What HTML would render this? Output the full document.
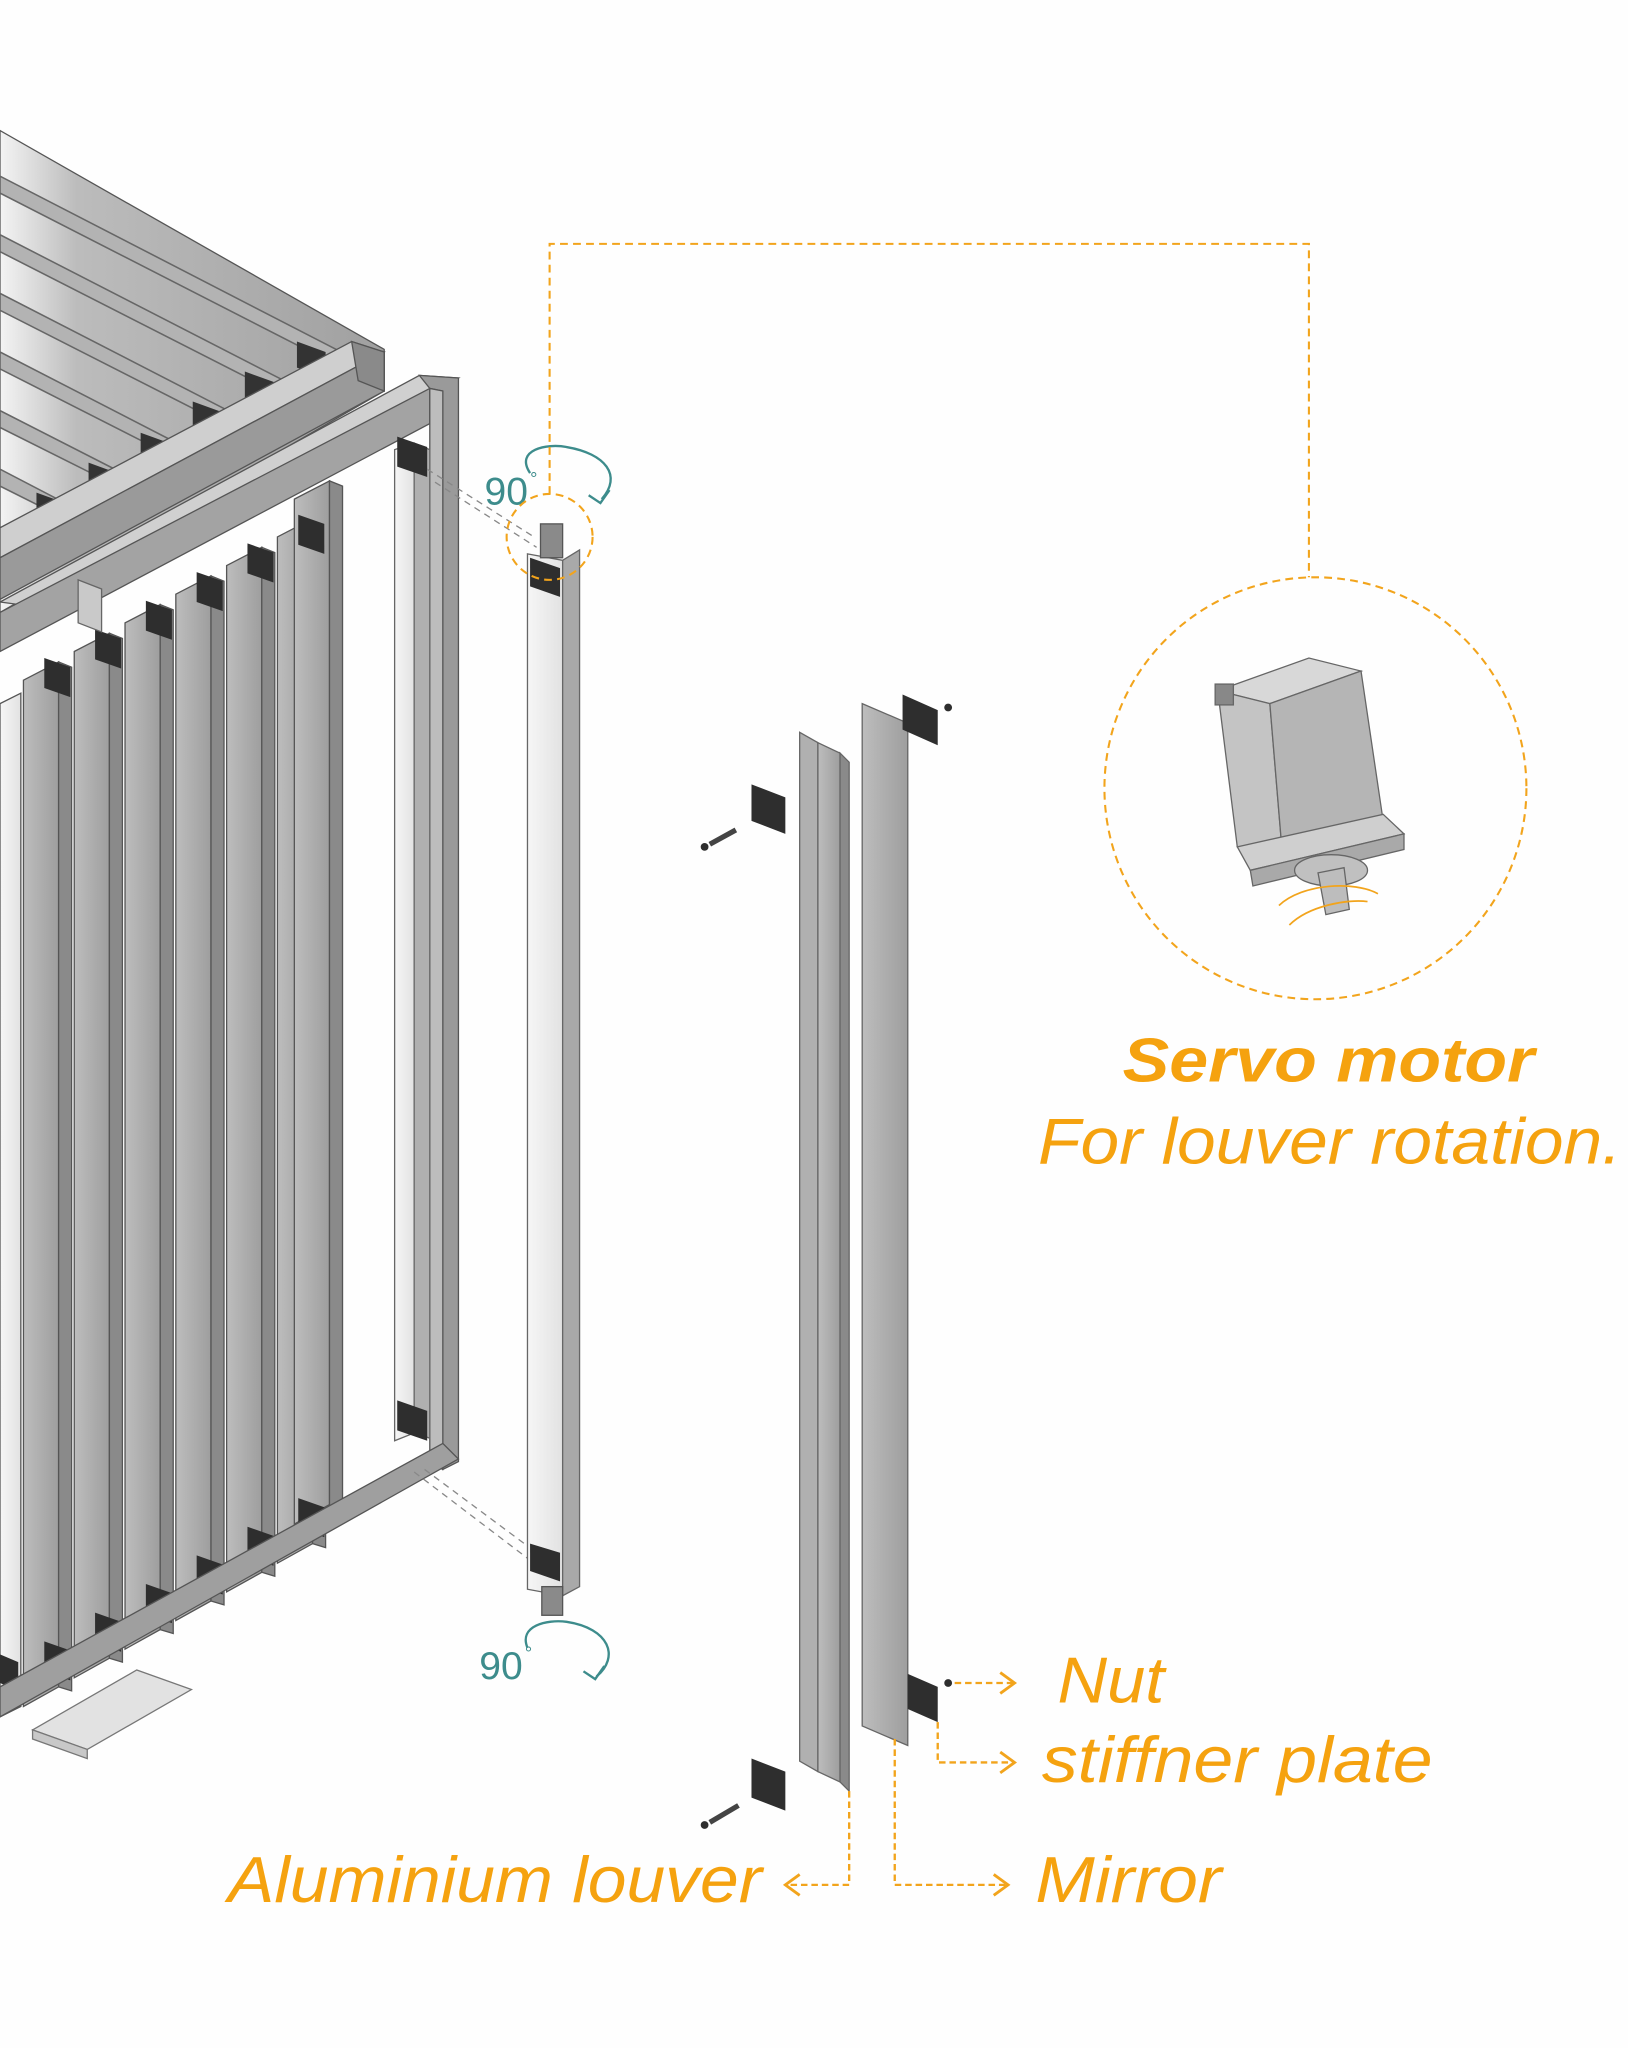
<!DOCTYPE html>
<html><head><meta charset="utf-8"><style>
html,body{margin:0;padding:0;background:#fefefe;}
svg{display:block;}
text{font-family:"Liberation Sans",sans-serif;}
</style></head><body>
<svg width="1628" height="2048" viewBox="0 0 1250 1572" xmlns="http://www.w3.org/2000/svg">
<defs>
<linearGradient id="lv" x1="0" x2="1"><stop offset="0" stop-color="#bdbdbd"/><stop offset="1" stop-color="#9e9e9e"/></linearGradient>
<linearGradient id="wh" x1="0" x2="1"><stop offset="0" stop-color="#f6f6f6"/><stop offset="1" stop-color="#e2e2e2"/></linearGradient>
<linearGradient id="roof" x1="0" x2="1"><stop offset="0" stop-color="#f4f4f4"/><stop offset="0.2" stop-color="#bcbcbc"/><stop offset="1" stop-color="#a0a0a0"/></linearGradient>
</defs>
<rect width="1250" height="1572" fill="#fefefe"/>

<!-- roof -->
<polygon points="0,100 295,268 295,300 0,470" fill="url(#roof)" stroke="#555" stroke-width="1"/>
<g stroke="#666" stroke-width="1.2" fill="#b3b3b3">
<polygon points="0,135 258,268 258,280 0,148"/>
<polygon points="0,180 218,292 218,304 0,193"/>
<polygon points="0,225 175,315 175,327 0,238"/>
<polygon points="0,270 132,338 132,350 0,283"/>
<polygon points="0,315 92,362 92,374 0,328"/>
<polygon points="0,360 50,386 50,398 0,373"/>
</g>
<g fill="#333">
<polygon points="228,262 250,270 250,290 228,282"/>
<polygon points="188,285 210,293 210,313 188,305"/>
<polygon points="148,308 170,316 170,336 148,328"/>
<polygon points="108,332 130,340 130,360 108,352"/>
<polygon points="68,355 90,363 90,383 68,375"/>
<polygon points="28,378 50,386 50,406 28,398"/>
</g>
<polygon points="0,405 270,262 295,270 0,428" fill="#cfcfcf" stroke="#555"/>
<polygon points="0,428 295,270 295,300 0,460" fill="#9a9a9a" stroke="#555"/>
<polygon points="270,262 295,270 295,300 275,292" fill="#8a8a8a" stroke="#555"/>

<!-- louvers in front panel -->
<g stroke="#555" stroke-width="1">
<polygon points="0,540 16,532 16,1310 0,1318" fill="url(#wh)"/>
<polygon points="18,522 45,508 45,1295 18,1310" fill="url(#lv)"/>
<polygon points="45,508 55,512 55,1298 45,1295" fill="#8a8a8a"/>
<polygon points="57,500 84,486 84,1273 57,1288" fill="url(#lv)"/>
<polygon points="84,486 94,490 94,1276 84,1273" fill="#8a8a8a"/>
<polygon points="96,478 123,464 123,1251 96,1266" fill="url(#lv)"/>
<polygon points="123,464 133,468 133,1254 123,1251" fill="#8a8a8a"/>
<polygon points="135,456 162,442 162,1229 135,1244" fill="url(#lv)"/>
<polygon points="162,442 172,446 172,1232 162,1229" fill="#8a8a8a"/>
<polygon points="174,434 201,420 201,1207 174,1222" fill="url(#lv)"/>
<polygon points="201,420 211,424 211,1210 201,1207" fill="#8a8a8a"/>
<polygon points="213,412 240,398 240,1185 213,1200" fill="url(#lv)"/>
<polygon points="240,398 250,402 250,1188 240,1185" fill="#8a8a8a"/>
<polygon points="226,383 253,369 253,1155 226,1170" fill="url(#lv)"/>
<polygon points="253,369 263,373 263,1162 253,1158" fill="#8a8a8a"/>
</g>
<g fill="#2e2e2e">
<polygon points="34,505 54,512 54,535 34,528"/>
<polygon points="73,483 93,490 93,513 73,506"/>
<polygon points="112,461 132,468 132,491 112,484"/>
<polygon points="151,439 171,446 171,469 151,462"/>
<polygon points="190,417 210,424 210,447 190,440"/>
<polygon points="229,395 249,402 249,425 229,418"/>
<polygon points="34,1260 54,1267 54,1290 34,1283"/>
<polygon points="73,1238 93,1245 93,1268 73,1261"/>
<polygon points="112,1216 132,1223 132,1246 112,1239"/>
<polygon points="151,1194 171,1201 171,1224 151,1217"/>
<polygon points="190,1172 210,1179 210,1202 190,1195"/>
<polygon points="229,1150 249,1157 249,1180 229,1173"/>
<polygon points="0,1270 14,1276 14,1298 0,1292"/>
</g>

<!-- front top beam -->
<polygon points="0,462 322,288 352,290 30,466" fill="#d0d0d0" stroke="#555"/>
<polygon points="0,470 330,298 330,325 0,500" fill="#a3a3a3" stroke="#555"/>
<polygon points="60,445 78,452 78,485 60,478" fill="#c9c9c9" stroke="#666"/>
<!-- post -->
<polygon points="322,288 352,290 352,1122 340,1128 340,300 330,298" fill="#9a9a9a" stroke="#555"/>
<polygon points="330,298 340,300 340,1128 330,1124" fill="#bdbdbd" stroke="#555"/>
<!-- open louver -->
<polygon points="303,345 318,340 318,1100 303,1106" fill="url(#wh)" stroke="#666"/>
<polygon points="318,340 330,345 330,1104 318,1100" fill="#b0b0b0" stroke="#666"/>
<polygon points="305,335 328,343 328,366 305,358" fill="#2e2e2e"/>
<polygon points="305,1075 328,1083 328,1106 305,1098" fill="#2e2e2e"/>
<!-- bottom beam -->
<polygon points="0,1295 340,1108 352,1120 0,1318" fill="#9f9f9f" stroke="#555"/>
<!-- base plate -->
<polygon points="25,1328 105,1282 147,1297 67,1343" fill="#e2e2e2" stroke="#777"/>
<polygon points="25,1328 67,1343 67,1350 25,1335" fill="#c8c8c8" stroke="#777"/>

<!-- dashed projection lines -->
<g stroke="#888" stroke-width="1" stroke-dasharray="5,4" fill="none">
<line x1="328" y1="360" x2="410" y2="412"/>
<line x1="334" y1="370" x2="412" y2="420"/>
<line x1="318" y1="1130" x2="410" y2="1200"/>
<line x1="326" y1="1128" x2="412" y2="1192"/>
</g>

<!-- standalone louver -->
<polygon points="405,425 432,430 432,1225 405,1220" fill="url(#wh)" stroke="#666"/>
<polygon points="432,430 445,422 445,1218 432,1225" fill="#a9a9a9" stroke="#666"/>
<polygon points="407,428 430,436 430,458 407,450" fill="#2e2e2e"/>
<polygon points="407,1185 430,1192 430,1214 407,1206" fill="#2e2e2e"/>
<rect x="415" y="402" width="17" height="26" fill="#8a8a8a" stroke="#555"/>
<rect x="416" y="1218" width="16" height="22" fill="#8a8a8a" stroke="#555"/>

<!-- 90 deg markers -->
<g fill="none" stroke="#3d8c8c" stroke-width="1.8">
<path d="M407,363 C395,345 420,340 435,343 C465,348 478,365 462,383"/>
<path d="M452,380 L461,386 L468,376"/>
<path d="M405,1265 C398,1248 420,1243 435,1245 C468,1250 476,1272 458,1287"/>
<path d="M448,1283 L457,1289 L464,1279"/>
</g>
<text x="372" y="387" font-size="30" fill="#3d8c8c">90</text><text x="407" y="372" font-size="14" fill="#3d8c8c">°</text>
<text x="368" y="1289" font-size="30" fill="#3d8c8c">90</text><text x="403" y="1274" font-size="14" fill="#3d8c8c">°</text>

<!-- orange connector -->
<g fill="none" stroke="#f2a41c" stroke-width="1.6" stroke-dasharray="6,4">
<polyline points="422,379 422,187 1005,187 1005,443"/>
<circle cx="422" cy="412" r="33"/>
<circle cx="1010" cy="605" r="162"/>
</g>

<!-- motor -->
<g stroke="#666" stroke-width="1">
<polygon points="935,530 1005,505 1045,515 975,540" fill="#d8d8d8"/>
<polygon points="935,530 975,540 985,660 950,650" fill="#c4c4c4"/>
<polygon points="975,540 1045,515 1062,630 985,660" fill="#b5b5b5"/>
<polygon points="950,650 1062,625 1078,640 960,668" fill="#cfcfcf"/>
<polygon points="960,668 1078,640 1078,652 962,680" fill="#a9a9a9"/>
<ellipse cx="1022" cy="668" rx="28" ry="12" fill="#c0c0c0"/>
<polygon points="1012,670 1032,666 1036,698 1018,702" fill="#bdbdbd"/>
<rect x="933" y="525" width="14" height="16" fill="#888"/>
</g>
<g fill="none" stroke="#f2a41c" stroke-width="1.3">
<path d="M982,695 C1000,678 1040,676 1058,686"/>
<path d="M990,710 C1005,695 1035,690 1050,692"/>
</g>

<!-- exploded C channel -->
<polygon points="614,562 628,570 628,1360 614,1352" fill="#b0b0b0" stroke="#666"/>
<polygon points="628,570 645,578 645,1368 628,1360" fill="url(#lv)" stroke="#666"/>
<polygon points="645,578 652,585 652,1375 645,1368" fill="#8a8a8a" stroke="#666"/>
<!-- mirror -->
<polygon points="662,540 697,555 697,1340 662,1325" fill="url(#lv)" stroke="#666"/>
<g fill="#2e2e2e">
<polygon points="577,602 603,612 603,640 577,630"/>
<polygon points="693,533 720,545 720,572 693,560"/>
<polygon points="577,1350 603,1360 603,1390 577,1380"/>
<polygon points="697,1285 720,1295 720,1322 697,1312"/>
<circle cx="728" cy="543" r="3"/>
<circle cx="728" cy="1292" r="3"/>
<circle cx="541" cy="650" r="3"/>
<circle cx="541" cy="1401" r="3"/>
</g>
<g stroke="#444" stroke-width="4"><line x1="545" y1="648" x2="565" y2="637"/><line x1="545" y1="1399" x2="567" y2="1386"/></g>

<!-- leader lines -->
<g fill="none" stroke="#f2a41c" stroke-width="1.8" stroke-dasharray="5,3">
<polyline points="733,1292 778,1292"/>
<polyline points="720,1322 720,1353 778,1353"/>
<polyline points="687,1335 687,1447 773,1447"/>
<polyline points="652,1375 652,1447 604,1447"/>
</g>
<g fill="none" stroke="#f2a41c" stroke-width="2.2">
<polyline points="768,1284 779,1292 768,1300"/>
<polyline points="768,1345 779,1353 768,1361"/>
<polyline points="763,1439 774,1447 763,1455"/>
<polyline points="614,1439 603,1447 614,1455"/>
</g>

<!-- labels -->
<g fill="#f5a20f">
<text x="862" y="830" font-size="48" font-weight="bold" font-style="italic" textLength="316" lengthAdjust="spacingAndGlyphs">Servo motor</text>
<text x="797" y="893" font-size="50" font-style="italic" textLength="448" lengthAdjust="spacingAndGlyphs">For louver rotation.</text>
<text x="812" y="1307" font-size="50" font-style="italic" textLength="82" lengthAdjust="spacingAndGlyphs">Nut</text>
<text x="800" y="1368" font-size="50" font-style="italic" textLength="300" lengthAdjust="spacingAndGlyphs">stiffner plate</text>
<text x="795" y="1460" font-size="50" font-style="italic" textLength="143" lengthAdjust="spacingAndGlyphs">Mirror</text>
<text x="175" y="1460" font-size="50" font-style="italic" textLength="410" lengthAdjust="spacingAndGlyphs">Aluminium louver</text>
</g>
</svg>
</body></html>
